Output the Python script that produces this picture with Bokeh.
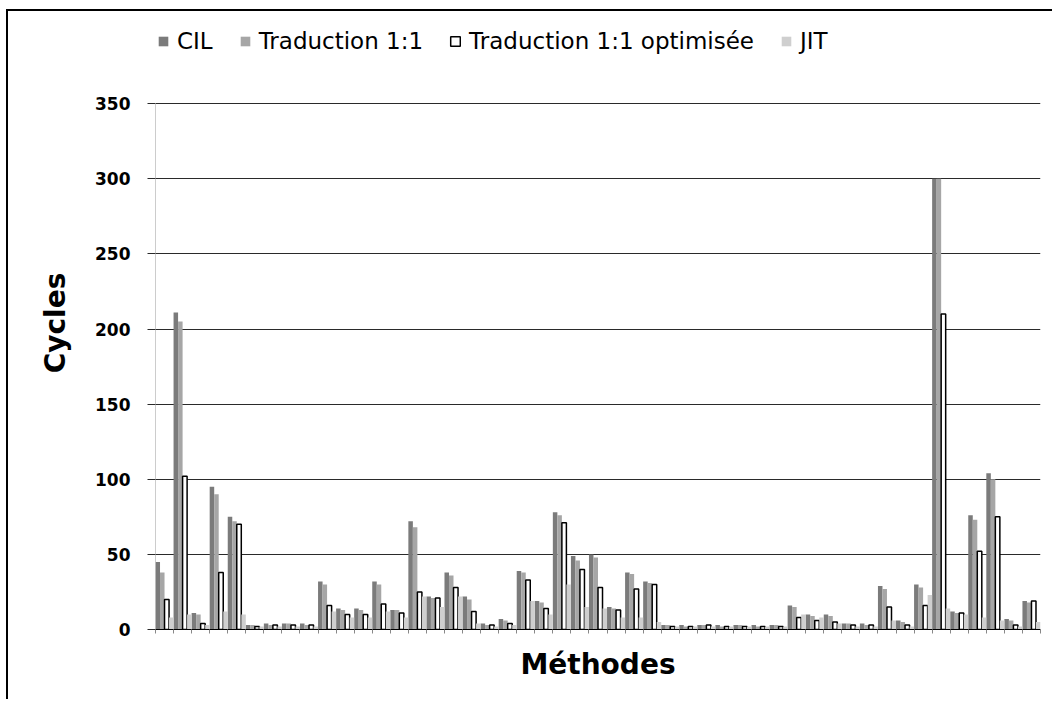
from bokeh.plotting import figure
from bokeh.models import ColumnDataSource, FixedTicker, Legend, LegendItem, Range1d
from bokeh.transform import dodge
from bokeh.embed import file_html
from bokeh.resources import INLINE

# ---- data ----
series_names = ["CIL", "Traduction 1:1", "Traduction 1:1 optimisée", "JIT"]
methods = list(range(1, 50))
cil = [45, 211, 11, 95, 75, 3, 4, 4, 4, 32, 14, 14, 32, 13, 72, 22, 38, 22, 4, 7,
       39, 19, 78, 49, 50, 15, 38, 32, 3, 3, 3, 3, 3, 3, 3, 16, 10, 10, 4, 4,
       29, 6, 30, 300, 12, 76, 104, 7, 19]
trad = [38, 205, 10, 90, 72, 3, 3, 4, 3, 30, 13, 13, 30, 13, 68, 21, 36, 20, 3, 6,
        38, 18, 76, 46, 48, 14, 37, 31, 3, 2, 3, 2, 3, 2, 3, 15, 9, 9, 4, 3,
        27, 5, 28, 300, 11, 73, 100, 6, 18]
opt = [20, 102, 4, 38, 70, 2, 3, 3, 3, 16, 10, 10, 17, 11, 25, 21, 28, 12, 3, 4,
       33, 14, 71, 40, 28, 13, 27, 30, 2, 2, 3, 2, 2, 2, 2, 8, 6, 5, 3, 3,
       15, 3, 16, 210, 11, 52, 75, 3, 19]
jit = [8, 10, 3, 12, 10, 2, 2, 2, 2, 12, 8, 8, 12, 8, 22, 15, 22, 4, 2, 3,
       19, 10, 30, 15, 14, 8, 8, 5, 2, 2, 2, 2, 2, 2, 2, 10, 8, 4, 2, 2,
       6, 2, 23, 14, 10, 8, 6, 2, 5]
y_ticks = [0, 50, 100, 150, 200, 250, 300, 350]

source = ColumnDataSource(dict(
    x=[m - 0.5 for m in methods], cil=cil, trad=trad, opt=opt, jit=jit))

FONT = "DejaVu Sans"

# frame extends above the 350 line so the legend sits inside it (no clipping)
p = figure(width=1046, height=690, output_backend="svg", toolbar_location=None,
           x_range=Range1d(0, len(methods)), y_range=Range1d(0, 408),
           min_border_left=147, min_border_right=14, min_border_top=5,
           min_border_bottom=72)
p.styles = {"border-left": "2px solid black", "border-top": "2px solid black",
            "margin-left": "6px", "margin-top": "9px"}
p.outline_line_color = None
p.background_fill_color = "white"

bw = 0.25
r_cil = p.vbar(x=dodge("x", -0.375, range=p.x_range), top="cil", width=bw, source=source,
               fill_color="#7b7b7b", line_color=None)
r_trad = p.vbar(x=dodge("x", -0.125, range=p.x_range), top="trad", width=bw, source=source,
                fill_color="#a6a6a6", line_color=None)
r_opt = p.vbar(x=dodge("x", 0.125, range=p.x_range), top="opt", width=bw, source=source,
               fill_color="white", line_color="black", line_width=1.5)
r_jit = p.vbar(x=dodge("x", 0.375, range=p.x_range), top="jit", width=bw, source=source,
               fill_color="#cfcfcf", line_color=None)

# grid
p.xgrid.visible = False
p.ygrid.ticker = FixedTicker(ticks=y_ticks)
p.ygrid.grid_line_color = "#2a2a2a"
p.ygrid.grid_line_width = 1.2

# y axis
p.yaxis.ticker = FixedTicker(ticks=y_ticks)
p.yaxis.bounds = (0, 350)
p.yaxis.axis_label = "Cycles"
p.yaxis.axis_label_text_font = FONT
p.yaxis.axis_label_text_font_style = "bold"
p.yaxis.axis_label_text_font_size = "28px"
p.yaxis.axis_label_text_color = "black"
p.yaxis.axis_label_standoff = 20
p.yaxis.major_label_text_font = FONT
p.yaxis.major_label_text_font_style = "bold"
p.yaxis.major_label_text_font_size = "17px"
p.yaxis.major_label_text_color = "black"
p.yaxis.major_label_standoff = 17
p.yaxis.major_tick_out = 8
p.yaxis.major_tick_in = 0
p.yaxis.major_tick_line_color = "#2a2a2a"
p.yaxis.minor_tick_line_color = None
p.yaxis.axis_line_color = "#999999"
p.yaxis.axis_line_dash = "1 1"

# x axis: only boundary ticks (as minor ticks), no labels
p.xaxis.ticker = FixedTicker(ticks=[], minor_ticks=list(range(0, len(methods) + 1)))
p.xaxis.axis_label = "Méthodes"
p.xaxis.axis_label_text_font = FONT
p.xaxis.axis_label_text_font_style = "bold"
p.xaxis.axis_label_text_font_size = "28px"
p.xaxis.axis_label_text_color = "black"
p.xaxis.axis_label_standoff = 14
p.xaxis.major_tick_line_color = None
p.xaxis.minor_tick_out = 4
p.xaxis.minor_tick_in = 0
p.xaxis.minor_tick_line_color = "#888888"
p.xaxis.axis_line_color = "black"

legend = Legend(items=[
    LegendItem(label=series_names[0], renderers=[r_cil]),
    LegendItem(label=series_names[1], renderers=[r_trad]),
    LegendItem(label=series_names[2], renderers=[r_opt]),
    LegendItem(label=series_names[3], renderers=[r_jit]),
], orientation="horizontal", location=(2, 575))
legend.label_text_font = FONT
legend.label_text_font_size = "23px"
legend.label_text_color = "black"
legend.glyph_width = 12
legend.glyph_height = 12
legend.label_standoff = 8
legend.spacing = 26
legend.padding = 0
legend.margin = 0
legend.border_line_color = None
legend.background_fill_alpha = 0
p.add_layout(legend, "center")

open("out.html", "w").write(file_html(p, INLINE))
